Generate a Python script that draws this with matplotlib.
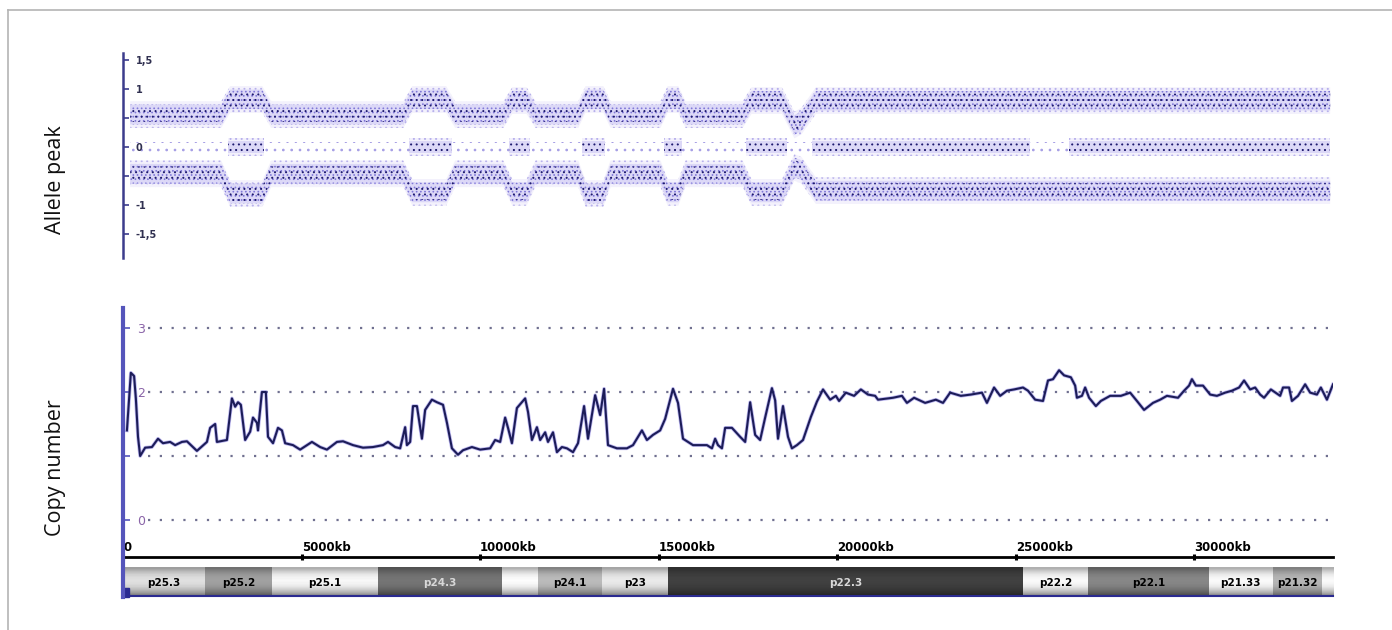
import numpy as np
import matplotlib
matplotlib.use("Agg")
from matplotlib import pyplot as plt
from matplotlib.lines import Line2D
from matplotlib.patches import Rectangle

# ---- copy number profile (kb, copy number) ----
cn_kb = [110, 220, 310, 360, 420, 480, 620, 810, 980, 1120, 1320, 1460, 1650, 1790, 2070,
         2350, 2440, 2580, 2630, 2910, 3050, 3140, 3220, 3300, 3420, 3560, 3640, 3750, 3780,
         3890, 4000, 4060, 4200, 4340, 4450, 4540, 4760, 4960, 5290, 5520, 5710, 5990, 6160,
         6440, 6720, 7000, 7280, 7420, 7620, 7760, 7900, 7950, 8040, 8120, 8230, 8370, 8460,
         8650, 8790, 8960, 9070, 9210, 9380, 9520, 9770, 10000, 10280, 10420, 10560, 10700,
         10780, 10890, 11030, 11260, 11340, 11450, 11590, 11680, 11820, 11900, 12040, 12150,
         12290, 12430, 12600, 12740, 12910, 13020, 13220, 13360, 13470, 13580, 13830, 14110,
         14280, 14530, 14670, 14840, 15040, 15180, 15400, 15540, 15680, 15960, 16350, 16490,
         16580, 16660, 16770, 16860, 17050, 17280, 17420, 17560, 17700, 17840, 17980, 18170,
         18260, 18340, 18480, 18620, 18730, 18870, 19040, 19260, 19430, 19600, 19800, 19960,
         20050, 20240, 20470, 20660, 20860, 21060, 21140, 21560, 21810, 21950, 22150, 22460,
         22760, 22960, 23160, 23460, 23740, 24050, 24190, 24390, 24560, 24750, 24950, 25200,
         25340, 25540, 25760, 25900, 26040, 26210, 26350, 26540, 26660, 26710, 26850, 26940,
         27050, 27240, 27380, 27640, 27940, 28200, 28390, 28590, 28840, 29040, 29230, 29540,
         29710, 29850, 29930, 30040, 30240, 30440, 30630, 30860, 31050, 31250, 31390, 31560,
         31700, 31840, 31950, 32140, 32400, 32480, 32650, 32730, 32900, 33100, 33240, 33430,
         33540, 33710, 33880]
cn_val = [1.40, 2.30, 2.25, 1.90, 1.30, 1.00, 1.13, 1.14, 1.27, 1.20, 1.22, 1.17, 1.22, 1.23, 1.08,
          1.22, 1.44, 1.50, 1.22, 1.25, 1.90, 1.77, 1.84, 1.80, 1.25, 1.38, 1.60, 1.52, 1.40,
          2.00, 2.00, 1.30, 1.20, 1.44, 1.40, 1.20, 1.17, 1.10, 1.22, 1.14, 1.10, 1.22, 1.23,
          1.17, 1.13, 1.14, 1.17, 1.22, 1.14, 1.12, 1.45, 1.17, 1.22, 1.78, 1.78, 1.27, 1.72,
          1.88, 1.84, 1.80, 1.52, 1.12, 1.02, 1.09, 1.14, 1.10, 1.12, 1.25, 1.22, 1.60,
          1.44, 1.20, 1.75, 1.90, 1.69, 1.25, 1.45, 1.25, 1.37, 1.22, 1.37, 1.06,
          1.14, 1.12, 1.06, 1.20, 1.78, 1.27, 1.95, 1.64, 2.05, 1.17, 1.12, 1.12,
          1.17, 1.40, 1.25, 1.33, 1.40, 1.58, 2.05, 1.83, 1.27, 1.17, 1.17, 1.12,
          1.27, 1.17, 1.12, 1.44, 1.44, 1.30, 1.22, 1.84, 1.33, 1.25, 1.60, 2.06,
          1.87, 1.27, 1.78, 1.30, 1.12, 1.17, 1.25, 1.61, 1.85, 2.04, 1.88, 1.94,
          1.86, 1.99, 1.94, 2.04, 1.96, 1.94, 1.88, 1.91, 1.94, 1.83, 1.91, 1.83,
          1.88, 1.83, 1.99, 1.94, 1.96, 1.99, 1.83, 2.07, 1.94, 2.02, 2.04, 2.07,
          2.02, 1.88, 1.86, 2.18, 2.20, 2.34, 2.26, 2.23, 2.10, 1.91, 1.94, 2.07,
          1.91, 1.78, 1.86, 1.94, 1.94, 1.99, 1.86, 1.72, 1.83, 1.88, 1.94, 1.91,
          2.02, 2.10, 2.20, 2.10, 2.10, 1.96, 1.94, 1.99, 2.02, 2.07, 2.18, 2.04,
          2.07, 1.96, 1.91, 2.04, 1.94, 2.07, 2.07, 1.86, 1.94, 2.12, 1.99, 1.96,
          2.07, 1.88, 2.12]

# ---- allele peak clouds: band centres sampled along the chromosome (kb) ----
al_kb = [200, 2750, 3000, 3900, 4150, 7850, 8100, 9050, 9300, 10650, 10900, 11300, 11550,
         12750, 12950, 13450, 13650, 15050, 15250, 15550, 15750, 17350, 17600, 18450, 18800,
         19000, 19400, 33800]
al_upper = [0.56, 0.56, 0.82, 0.82, 0.56, 0.56, 0.82, 0.82, 0.56, 0.56, 0.80, 0.80, 0.56,
            0.56, 0.82, 0.82, 0.56, 0.56, 0.82, 0.82, 0.56, 0.56, 0.80, 0.80, 0.38,
            0.45, 0.80, 0.80]
al_lower = [-0.46, -0.46, -0.80, -0.80, -0.46, -0.46, -0.78, -0.78, -0.46, -0.46, -0.78, -0.78, -0.46,
            -0.46, -0.80, -0.80, -0.46, -0.46, -0.78, -0.78, -0.46, -0.46, -0.78, -0.78, -0.35,
            -0.40, -0.75, -0.75]
# middle (0) cloud: start, end, dense?
mid_start = [200, 2950, 3950, 8000, 9200, 10800, 11400, 12850, 13500, 15150, 15650, 17450, 18600, 19300, 25400, 26500]
mid_end = [2950, 3950, 8000, 9200, 10800, 11400, 12850, 13500, 15150, 15650, 17450, 18600, 19300, 25400, 26500, 33800]
mid_dense = [0, 1, 0, 1, 0, 1, 0, 1, 0, 1, 0, 1, 0, 1, 0, 1]

# ---- x axis + ideogram ----
kb_ticks = [0, 5000, 10000, 15000, 20000, 25000, 30000]
kb_labels = ["0", "5000kb", "10000kb", "15000kb", "20000kb", "25000kb", "30000kb"]
band_names = ["p25.3", "p25.2", "p25.1", "p24.3", "", "p24.1", "p23", "p22.3", "p22.2", "p22.1", "p21.33", "p21.32", ""]
band_start = [0, 2300, 4170, 7140, 10610, 11620, 13410, 15260, 25200, 27020, 30400, 32200, 33570]
band_end = [2300, 4170, 7140, 10610, 11620, 13410, 15260, 25200, 27020, 30400, 32200, 33570, 33880]
band_grey = [0.86, 0.62, 0.95, 0.45, 0.97, 0.72, 0.90, 0.25, 0.96, 0.52, 0.96, 0.70, 0.96]

W, H = 1392, 630
XMAX = 33880
fig = plt.figure(figsize=(W / 100, H / 100), dpi=100)

def fx(px):
    return px / W

def fy(py):
    return 1 - py / H

# border of the figure (top and left only)
fig.add_artist(Line2D([fx(8), 1], [fy(10), fy(10)], color="#b4b4b4", lw=1.2))
fig.add_artist(Line2D([fx(8), fx(8)], [fy(10), 0], color="#b4b4b4", lw=1.2))

# ================= allele peak =================
ax1 = fig.add_axes([fx(123), fy(258), fx(1333 - 123), (258 - 53) / H])
ax1.set_xlim(0, XMAX)
ax1.set_ylim(-1.91, 1.62)
for s in ["top", "right", "bottom"]:
    ax1.spines[s].set_visible(False)
ax1.spines["left"].set_color("#3c3c8c")
ax1.spines["left"].set_linewidth(1.8)
ax1.set_xticks([])
ax1.set_yticks([1.5, 1, 0.5, 0, -0.5, -1, -1.5])
ax1.set_yticklabels(["1,5", "1", "", "0", "", "-1", "-1,5"])
ax1.tick_params(axis="y", direction="in", length=4, width=1.2, color="#3c3c8c",
                pad=-9, labelsize=7, labelcolor="#303050")
for t in ax1.get_yticklabels():
    t.set_horizontalalignment("left")
    t.set_fontweight("bold")

# hatch colour follows the edgecolor of each fill (edges themselves have lw=0)
plt.rcParams["hatch.linewidth"] = 0.7
al_kb = np.array(al_kb)
hw = 0.17
for c in (np.array(al_upper), np.array(al_lower)):
    ax1.fill_between(al_kb, c - hw * 1.35, c + hw * 1.35, facecolor="#f3f1fc",
                     edgecolor="#b8b1ec", hatch="...", lw=0)
    ax1.fill_between(al_kb, c - hw, c + hw, facecolor="#dcd8f7",
                     edgecolor="#8078d8", hatch="....", lw=0)
    ax1.fill_between(al_kb, c - hw * 0.75, c + hw * 0.75, facecolor="none",
                     edgecolor="#1e1a70", hatch="...", lw=0)

for s0, s1, d in zip(mid_start, mid_end, mid_dense):
    xs = [s0, s1]
    if d:
        ax1.fill_between(xs, -0.15, 0.15, facecolor="#f3f1fc",
                         edgecolor="#b8b1ec", hatch="...", lw=0)
        ax1.fill_between(xs, -0.1, 0.1, facecolor="#dcd8f7",
                         edgecolor="#1e1a70", hatch="...", lw=0)
    else:
        ax1.fill_between(xs, -0.09, 0.09, facecolor="none",
                         edgecolor="#a49ce4", hatch="..", lw=0)

fig.text(fx(56), fy(180), "Allele peak", rotation=90, ha="center", va="center",
         fontsize=15.5, family="Open Sans", color="#111111")

# ================= copy number =================
ax2 = fig.add_axes([fx(123), fy(557), fx(1333 - 123), (557 - 308) / H])
ax2.set_xlim(0, XMAX)
ax2.set_ylim(-0.578, 3.3125)
for s in ["top", "right", "left"]:
    ax2.spines[s].set_visible(False)
ax2.spines["bottom"].set_color("black")
ax2.spines["bottom"].set_linewidth(2)

for g in [0, 1, 2, 3]:
    ax2.hlines(g, 700, 33730, colors="#707090", linestyles=(0, (1, 4.3)), lw=1.6, zorder=1)
ax2.set_yticks([0, 1, 2, 3])
ax2.set_yticklabels(["0", "", "2", "3"])
ax2.tick_params(axis="y", direction="in", length=5, width=1.2, color="#5555bb",
                pad=-10, labelsize=9, labelcolor="#8a64a8")
for t in ax2.get_yticklabels():
    t.set_horizontalalignment("left")

ax2.set_xticks(kb_ticks)
ax2.set_xticklabels(kb_labels)
ax2.tick_params(axis="x", direction="inout", length=4, width=2.2, color="black",
                pad=-4, labelsize=8.5, labelcolor="black")
for t in ax2.get_xticklabels():
    t.set_horizontalalignment("left")
    t.set_verticalalignment("bottom")
    t.set_fontweight("bold")

ax2.plot(cn_kb, cn_val, color="#7a70e0", lw=2.6, alpha=0.5, zorder=2)
ax2.plot(cn_kb, cn_val, color="#1c1c58", lw=1.5, zorder=3)

fig.text(fx(56), fy(468), "Copy number", rotation=90, ha="center", va="center",
         fontsize=15.5, family="Open Sans", color="#111111")

# ================= ideogram =================
ax3 = fig.add_axes([fx(123), fy(597), fx(1333 - 123), 30 / H])
ax3.set_xlim(0, XMAX)
ax3.set_ylim(0, 1)
ax3.axis("off")
shade = np.array([0.72, 0.85, 0.95, 1.0, 1.02, 1.0, 0.95, 0.85, 0.72, 0.55])[:, None]
for name, b0, b1, g in zip(band_names, band_start, band_end, band_grey):
    img = np.clip(g * shade, 0, 1)
    ax3.imshow(img, cmap="gray", vmin=0, vmax=1, aspect="auto",
               extent=(b0, b1, 0, 1), interpolation="bilinear")
    if name:
        col = "#d8d8d8" if g < 0.5 else "black"
        ax3.text((b0 + b1) / 2, 0.48, name, ha="center", va="center", fontsize=7.5,
                 fontweight="bold", color=col)
ax3.set_xlim(0, XMAX)
ax3.set_ylim(0, 1)
ax3.plot([0, 33880], [0.02, 0.02], color="#2a2a90", lw=1.5, clip_on=False)
ax3.add_patch(Rectangle((0, 0), 180, 0.3, color="#2a2a90", clip_on=False))

# blue axis through copy number panel and ideogram
fig.add_artist(Line2D([fx(123), fx(123)], [fy(308), fy(597)], color="#5555bb", lw=3))

fig.savefig("out.png", dpi=100)
